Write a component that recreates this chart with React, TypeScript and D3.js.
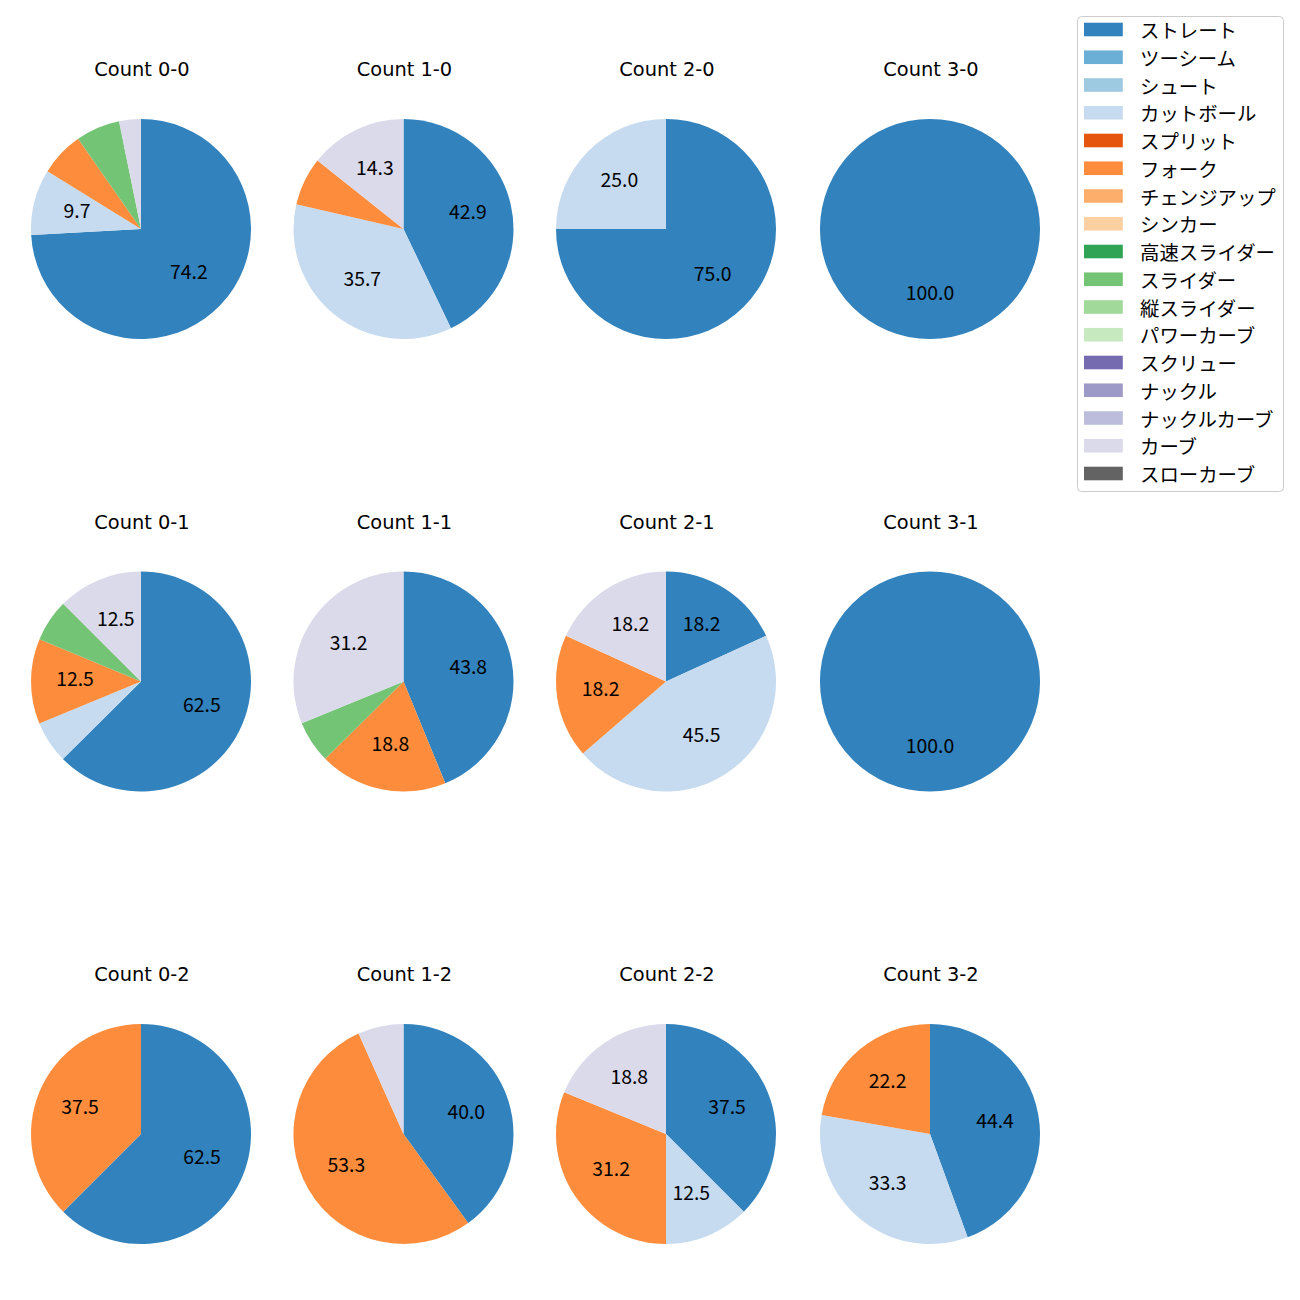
import React from "react";
import * as d3 from "d3";

const pitchTypes = [
  "ストレート", "ツーシーム", "シュート", "カットボール", "スプリット", "フォーク",
  "チェンジアップ", "シンカー", "高速スライダー", "スライダー", "縦スライダー",
  "パワーカーブ", "スクリュー", "ナックル", "ナックルカーブ", "カーブ", "スローカーブ",
];
const pitchColors = [
  "#3182bd", "#6baed6", "#9ecae1", "#c6dbef", "#e6550d", "#fd8d3c",
  "#fdae6b", "#fdd0a2", "#31a354", "#74c476", "#a1d99b",
  "#c7e9c0", "#756bb1", "#9e9ac8", "#bcbddc", "#dadaeb", "#636363",
];

// Types that appear in the pies, in drawing order
const usedTypes = ["ストレート", "カットボール", "フォーク", "スライダー", "カーブ"];

const countTitles = [
  "Count 0-0", "Count 1-0", "Count 2-0", "Count 3-0",
  "Count 0-1", "Count 1-1", "Count 2-1", "Count 3-1",
  "Count 0-2", "Count 1-2", "Count 2-2", "Count 3-2",
];

const count00 = [74.2, 9.7, 6.5, 6.5, 3.2];
const count10 = [42.9, 35.7, 7.1, 0, 14.3];
const count20 = [75.0, 25.0, 0, 0, 0];
const count30 = [100.0, 0, 0, 0, 0];
const count01 = [62.5, 6.2, 12.5, 6.2, 12.5];
const count11 = [43.8, 0, 18.8, 6.2, 31.2];
const count21 = [18.2, 45.5, 18.2, 0, 18.2];
const count31 = [100.0, 0, 0, 0, 0];
const count02 = [62.5, 0, 37.5, 0, 0];
const count12 = [40.0, 0, 53.3, 0, 6.7];
const count22 = [37.5, 12.5, 31.2, 0, 18.8];
const count32 = [44.4, 33.3, 22.2, 0, 0];

const countValues = [
  count00, count10, count20, count30,
  count01, count11, count21, count31,
  count02, count12, count22, count32,
];

const FONT = "'Noto Sans CJK JP', 'Noto Sans', sans-serif";
const TITLE_FONT = "'DejaVu Sans', 'Noto Sans CJK JP', sans-serif";
const FS = 19.4;

const colX = [141, 403.5, 666, 930];
const rowY = [229, 681.5, 1134];
const R = 110;

function Pie({ cx, cy, title, values }: { cx: number; cy: number; title: string; values: number[] }) {
  const data = values.map((v, i) => ({ v, type: usedTypes[i] })).filter((d) => d.v > 0);
  const pie = d3.pie<{ v: number; type: string }>().sort(null).value((d) => d.v).startAngle(0).endAngle(2 * Math.PI);
  const arcs = pie(data);
  const arc = d3.arc<d3.PieArcDatum<{ v: number; type: string }>>().innerRadius(0).outerRadius(R);
  const labelArc = d3.arc<d3.PieArcDatum<{ v: number; type: string }>>().innerRadius(R * 0.6).outerRadius(R * 0.6);
  const colorOf = (t: string) => pitchColors[pitchTypes.indexOf(t)];
  return (
    <g>
      <text x={cx + 1} y={cy - 153} textAnchor="middle" fontFamily={TITLE_FONT} fontSize={FS} fill="#000">
        {title}
      </text>
      <g transform={`translate(${cx},${cy})`}>
        {arcs.map((a, i) => (
          <path key={i} d={arc(a) || ""} fill={colorOf(a.data.type)} />
        ))}
        {arcs.map((a, i) => {
          if (a.data.v < 8) return null;
          const [lx, ly] = labelArc.centroid(a);
          return (
            <text key={"t" + i} x={lx} y={ly + 5} textAnchor="middle" fontFamily={FONT} fontSize={FS} fill="#000">
              {a.data.v.toFixed(1)}
            </text>
          );
        })}
      </g>
    </g>
  );
}

function Legend() {
  const x0 = 1077, y0 = 16, w = 206, h = 475;
  const step = 27.75;
  const first = 29.5;
  return (
    <g>
      <rect x={x0 + 0.5} y={y0 + 0.5} width={w} height={h} rx={4} ry={4} fill="#fff" fillOpacity={0.8} stroke="#cccccc" strokeWidth={1} />
      {pitchTypes.map((t, i) => {
        const y = first + i * step;
        return (
          <g key={t}>
            <rect x={1084} y={y - 6.8} width={38.8} height={13.6} fill={pitchColors[i]} />
            <text x={1140} y={y} dominantBaseline="central" fontFamily={FONT} fontSize={FS} fill="#000">
              {t}
            </text>
          </g>
        );
      })}
    </g>
  );
}

export default function App() {
  return (
    <div style={{ position: "absolute", left: 0, top: 0 }}>
      <svg width={1300} height={1300} viewBox="0 0 1300 1300" style={{ display: "block", background: "#fff" }}>
        <rect width={1300} height={1300} fill="#fff" />
        {countTitles.map((t, i) => (
          <Pie key={t} cx={colX[i % 4]} cy={rowY[Math.floor(i / 4)]} title={t} values={countValues[i]} />
        ))}
        <Legend />
      </svg>
    </div>
  );
}
